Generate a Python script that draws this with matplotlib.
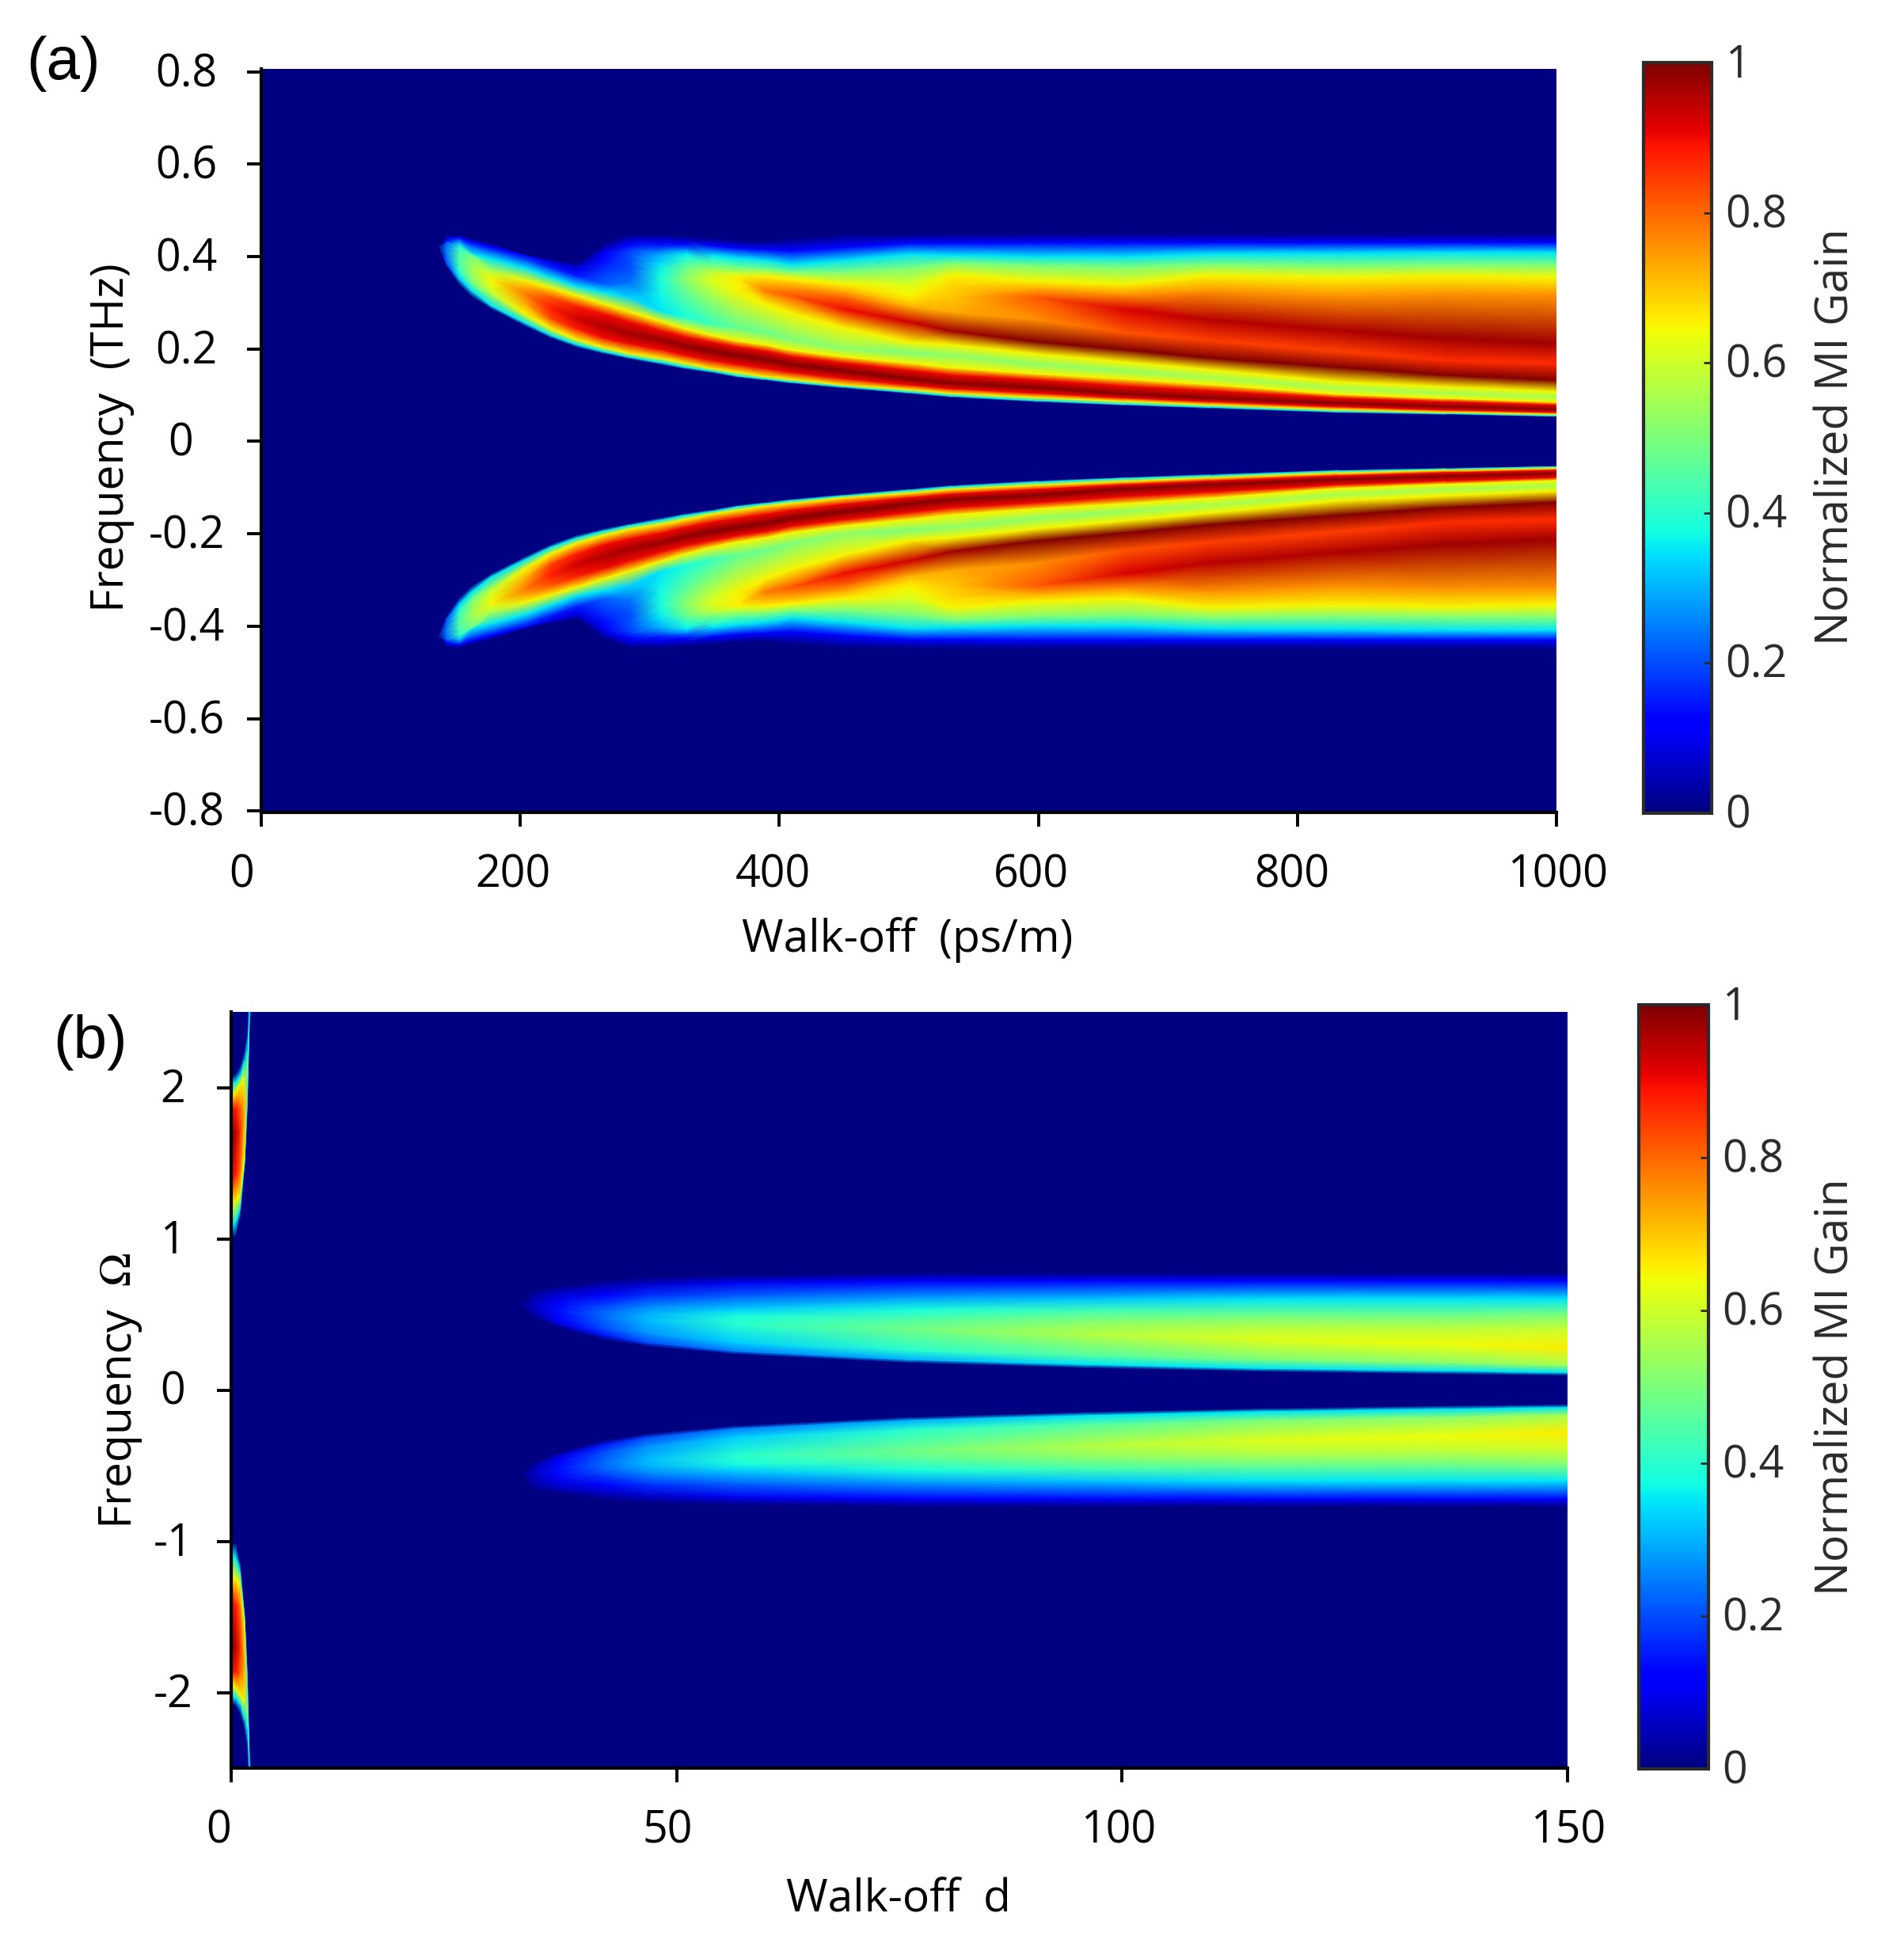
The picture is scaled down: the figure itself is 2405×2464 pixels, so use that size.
import numpy as np
import matplotlib
matplotlib.use("Agg")
import matplotlib.pyplot as plt
from matplotlib.transforms import ScaledTranslation

plt.rcParams['font.family'] = ['Open Sans', 'DejaVu Sans']
plt.rcParams['mathtext.fontset'] = 'stix'

W, H = 2405, 2464

#====== panel (a): curves followed along the upper band, lower band is its mirror ======
walkoff_a = [137, 143, 153, 163, 178, 204, 224, 244, 265, 285, 308, 328, 348, 369,
             389, 410, 450, 501, 534, 600, 667, 733, 832, 915, 1000]
freq_a = [
    [.423, .378, .338, .312, .286, .249, .223, .203, .189, .178, .166, .156, .148, .138, .132, .125, .115, .103, .095, .085, .078, .071, .062, .058, .054],
    [.423, .386, .352, .325, .293, .256, .229, .209, .194, .182, .171, .160, .152, .141, .135, .128, .118, .106, .098, .088, .080, .074, .064, .060, .055],
    [.423, .395, .366, .340, .320, .275, .243, .220, .203, .190, .180, .169, .157, .149, .140, .134, .122, .112, .104, .095, .087, .079, .069, .063, .059],
    [.423, .403, .378, .352, .332, .297, .266, .243, .224, .211, .199, .186, .175, .166, .158, .149, .136, .122, .114, .104, .094, .086, .075, .068, .063],
    [.423, .412, .395, .372, .352, .320, .289, .266, .249, .232, .220, .206, .195, .186, .178, .166, .152, .135, .125, .116, .102, .093, .082, .075, .069],
    [.423, .421, .409, .389, .357, .335, .312, .292, .275, .258, .240, .226, .215, .204, .196, .184, .170, .154, .144, .133, .120, .110, .094, .086, .079],
    [.423, .429, .420, .403, .369, .348, .332, .315, .297, .280, .260, .243, .229, .217, .209, .197, .183, .169, .159, .146, .135, .123, .102, .093, .085],
    [.423, .435, .432, .406, .395, .375, .355, .335, .323, .312, .283, .269, .255, .246, .235, .220, .200, .192, .186, .166, .152, .138, .115, .104, .096],
    [.423, .441, .439, .423, .412, .392, .377, .358, .340, .343, .320, .326, .338, .323, .298, .277, .246, .215, .209, .189, .172, .155, .129, .118, .108],
    [.423, .445, .443, .432, .420, .403, .389, .369, .366, .372, .352, .352, .352, .352, .326, .315, .286, .258, .238, .215, .198, .180, .160, .143, .132],
    [.423, .446, .446, .436, .426, .405, .392, .377, .383, .389, .377, .377, .366, .358, .346, .332, .312, .292, .280, .263, .235, .218, .195, .175, .169],
    [.423, .447, .448, .440, .429, .406, .395, .380, .397, .403, .389, .389, .372, .360, .352, .343, .326, .303, .312, .312, .286, .263, .240, .223, .212],
    [.423, .447, .448, .440, .429, .406, .395, .383, .409, .415, .403, .400, .377, .363, .355, .348, .335, .315, .338, .332, .318, .326, .315, .320, .318],
    [.423, .447, .448, .440, .429, .406, .395, .386, .418, .426, .415, .407, .386, .369, .358, .352, .340, .338, .360, .346, .340, .359, .354, .358, .354],
    [.423, .447, .448, .440, .429, .406, .395, .386, .423, .435, .423, .418, .395, .380, .372, .366, .366, .375, .386, .380, .377, .383, .380, .382, .382],
    [.423, .447, .448, .440, .429, .406, .395, .386, .426, .440, .432, .426, .403, .397, .392, .383, .392, .405, .403, .400, .400, .406, .407, .409, .409],
    [.423, .447, .448, .440, .429, .406, .395, .386, .429, .445, .440, .435, .423, .418, .415, .412, .420, .429, .429, .430, .430, .430, .430, .430, .430],
    [.423, .447, .448, .440, .429, .406, .395, .386, .432, .449, .448, .445, .440, .435, .434, .440, .449, .449, .449, .450, .450, .450, .450, .450, .450],
]
gain_a = [
    [0] * 25,
    [0, .20, .33] + [.35] * 22,
    [0, .22, .40, .48, .58] + [.65] * 20,
    [0, .24, .43, .52, .62, .73, .84, .88] + [.90] * 17,
    [0, .25, .45, .55, .65, .78, .88, .93, .96, .97, .98, .99] + [1] * 13,
    [0, .24, .43, .52, .62, .72, .82, .88] + [.90] * 17,
    [0, .22, .40, .48, .56] + [.65] * 20,
    [0, .12, .28, .35, .35, .35, .35, .35, .35, .33, .35, .38, .42, .47, .48, .50, .52, .50, .52, .52, .53, .55, .55, .55, .55],
    [0, .06, .15, .20, .20, .20, .15, .15, .22, .24, .37, .48, .60] + [.65] * 12,
    [0, .03, .08, .10, .12, .10, .08, .10, .18, .20, .38, .52, .62, .66, .78, .82, .90, .93, .97, 1, 1, 1, 1, 1, 1],
    [0, .01, .03, .05, .05, .03, .04, .08, .15, .20, .36, .48, .58, .65, .70, .75, .80, .72, .73, .76, .82, .84, .84, .86, .86],
    [0, 0, 0, 0, 0, 0, 0, .05, .13, .20, .33, .42, .55, .62, .68, .70, .72, .68, .70, .82, .92, .95, .96, .97, .97],
    [0, 0, 0, 0, 0, 0, 0, .02, .10, .18, .30, .38, .50, .60, .66, .67, .68, .65, .68, .72, .75, .75, .75, .75, .75],
    [0, 0, 0, 0, 0, 0, 0, 0, .06, .12, .22, .35, .45, .55, .65, .65, .65, .62, .65, .65, .65, .65, .65, .65, .65],
    [0, 0, 0, 0, 0, 0, 0, 0, .04, .08, .15, .22, .40, .45, .50, .50, .50, .50, .50, .50, .50, .50, .50, .50, .50],
    [0, 0, 0, 0, 0, 0, 0, 0, .02, .05, .10, .13, .35, .35, .35, .35, .35, .35, .35, .35, .35, .35, .35, .35, .35],
    [0, 0, 0, 0, 0, 0, 0, 0, .01, .02, .05, .06, .13, .13, .13, .13, .13, .13, .13, .13, .13, .13, .13, .13, .13],
    [0] * 25,
]

#====== panel (b): wide lobe ======
walkoff_b = [32.4, 33.9, 36.8, 41.8, 46.8, 56.7, 76.5, 96.4, 116.2, 136, 150]
freq_b = [
    [.559, .559, .559, .559, .559, .559, .559, .559, .559],
    [.480, .498, .524, .559, .585, .611, .637, .655, .660],
    [.410, .437, .471, .524, .559, .594, .637, .672, .690],
    [.332, .367, .410, .480, .524, .567, .628, .690, .730],
    [.288, .314, .375, .463, .506, .559, .628, .700, .750],
    [.236, .257, .314, .436, .489, .541, .620, .710, .760],
    [.178, .201, .262, .402, .463, .532, .611, .720, .775],
    [.145, .169, .227, .367, .445, .524, .602, .720, .775],
    [.122, .143, .201, .332, .419, .506, .602, .720, .775],
    [.105, .128, .183, .306, .402, .498, .602, .720, .775],
    [.096, .117, .166, .279, .393, .498, .602, .720, .775],
]
gain_b = [
    [0, 0, 0, 0, 0, 0, 0, 0, 0],
    [0, .03, .05, .06, .05, .04, .03, .01, 0],
    [0, .08, .12, .14, .13, .10, .07, .03, 0],
    [0, .15, .20, .23, .22, .18, .12, .05, 0],
    [0, .20, .27, .31, .30, .25, .17, .07, 0],
    [0, .25, .33, .40, .38, .32, .22, .10, 0],
    [0, .30, .40, .49, .45, .38, .28, .12, 0],
    [0, .35, .45, .57, .52, .43, .32, .13, 0],
    [0, .35, .50, .62, .57, .47, .35, .13, 0],
    [0, .35, .52, .64, .58, .48, .35, .13, 0],
    [0, .35, .55, .66, .60, .50, .35, .13, 0],
]

#====== panel (b): narrow sliver near zero walk-off ======
walkoff_c = [0, .5, 1, 1.5, 1.8, 2.0, 2.25]
freq_c = [
    [.994, 1.09, 1.24, 1.39, 1.67, 1.84, 1.94, 2.02, 2.08],
    [1.02, 1.11, 1.25, 1.42, 1.70, 1.87, 1.97, 2.04, 2.09],
    [1.14, 1.20, 1.29, 1.45, 1.72, 1.88, 2.02, 2.08, 2.14],
    [1.475, 1.50, 1.53, 1.65, 1.84, 1.96, 2.07, 2.18, 2.24],
    [1.84, 1.87, 1.91, 2.00, 2.10, 2.17, 2.24, 2.33, 2.38],
    [2.30, 2.33, 2.37, 2.42, 2.48, 2.54, 2.58, 2.62, 2.66],
    [2.56, 2.58, 2.60, 2.62, 2.64, 2.66, 2.68, 2.70, 2.72],
]
gain_c = [
    [0, .35, .65, .90, 1, .90, .65, .35, 0],
    [0, .35, .65, .88, .96, .88, .65, .35, 0],
    [0, .35, .65, .80, .87, .80, .65, .35, 0],
    [0, .35, .60, .68, .72, .68, .60, .35, 0],
    [0, .20, .35, .45, .50, .45, .35, .20, 0],
    [0, .15, .30, .38, .42, .38, .30, .15, 0],
    [0, 0, 0, 0, 0, 0, 0, 0, 0],
]

#====== ticks and labels ======
xticks_a = [0, 200, 400, 600, 800, 1000]
xlabels_a = ['0', '200', '400', '600', '800', '1000']
yticks_a = [0.8, 0.6, 0.4, 0.2, 0, -0.2, -0.4, -0.6, -0.8]
ylabels_a = ['0.8', '0.6', '0.4', '0.2', '0', '-0.2', '-0.4', '-0.6', '-0.8']
xticks_b = [0, 50, 100, 150]
xlabels_b = ['0', '50', '100', '150']
yticks_b = [2, 1, 0, -1, -2]
ylabels_b = ['2', '1', '0', '-1', '-2']
cticks = [0, 0.2, 0.4, 0.6, 0.8, 1]
clabels = ['0', '0.2', '0.4', '0.6', '0.8', '1']


def box(left, top, right, bottom):
    return [left / W, 1 - bottom / H, (right - left) / W, (bottom - top) / H]


def fx(x):
    return x / W


def fy(y):
    return 1 - y / H


def shift(lab, dx, dy):
    lab.set_transform(lab.get_transform() + ScaledTranslation(dx / 100, dy / 100, fig.dpi_scale_trans))


def band(ax, d, f, g):
    # rows follow the ridges, so one mesh per band, mirrored for negative frequency
    f = np.array(f)
    g = np.array(g)
    X = np.tile(np.array(d, dtype=float), (f.shape[0], 1))
    mesh = ax.pcolormesh(X, f, g, shading='gouraud', cmap='jet', vmin=0, vmax=1)
    ax.pcolormesh(X, -f, g, shading='gouraud', cmap='jet', vmin=0, vmax=1)
    return mesh


def style(ax, xt, xl, yt, yl, xoff, ypad, xpad):
    ax.set_facecolor('#000080')
    ax.spines['top'].set_visible(False)
    ax.spines['right'].set_visible(False)
    ax.spines['left'].set_linewidth(3)
    ax.spines['bottom'].set_linewidth(3)
    ax.set_xticks(xt)
    ax.set_xticklabels(xl)
    ax.set_yticks(yt)
    ax.set_yticklabels(yl)
    ax.tick_params(axis='both', length=13, width=2.8, labelsize=40, color='black')
    ax.tick_params(axis='y', pad=ypad)
    ax.tick_params(axis='x', pad=xpad)
    for lab in ax.get_yticklabels():
        lab.set_ha('center')
        shift(lab, 0, 3)
    for lab, dx in zip(ax.get_xticklabels(), xoff):
        shift(lab, dx, 0)


def colorbar(mesh, pos, label, lx, ly):
    cax = fig.add_axes(box(*pos))
    cb = fig.colorbar(mesh, cax=cax)
    cb.set_ticks(cticks)
    cb.set_ticklabels(clabels)
    cb.outline.set_edgecolor('#2b2b2b')
    cb.outline.set_linewidth(3)
    cax.tick_params(direction='in', length=7, width=2, color='#2b2b2b', labelsize=40,
                    labelcolor='#2b2b2b', pad=14)
    for lab in cax.get_yticklabels():
        shift(lab, -2, 3)
    cax.set_ylabel(label, fontsize=41, color='#2b2b2b', va='center', ha='center')
    cax.yaxis.set_label_coords(fx(lx), fy(ly), transform=fig.transFigure)


fig = plt.figure(figsize=(W / 100, H / 100), dpi=100)

#========= panel (a) =========
ax1 = fig.add_axes(box(330, 87, 1966, 1026))
mesh1 = band(ax1, walkoff_a, freq_a, gain_a)
ax1.set_xlim(0, 1000)
ax1.set_ylim(-0.803, 0.806)
style(ax1, xticks_a, xlabels_a, yticks_a, ylabels_a, [-25, -9, -8, -9, -7, 2], 55, 24)
shift(ax1.get_yticklabels()[4], -7, 0)
ax1.set_xlabel('Walk-off  (ps/m)', fontsize=41, va='center', ha='center')
ax1.xaxis.set_label_coords(fx(1146), fy(1187), transform=fig.transFigure)
ax1.set_ylabel('Frequency  (THz)', fontsize=41, va='center', ha='center')
ax1.yaxis.set_label_coords(fx(142), fy(553), transform=fig.transFigure)
colorbar(mesh1, (2076, 79, 2162, 1027), 'Normalized MI Gain', 2320, 552)

#========= panel (b) =========
ax2 = fig.add_axes(box(292, 1278, 1980, 2233))
mesh2 = band(ax2, walkoff_b, np.array(freq_b).T, np.array(gain_b).T)
band(ax2, walkoff_c, np.array(freq_c).T, np.array(gain_c).T)
ax2.set_xlim(0, 150)
ax2.set_ylim(-2.5, 2.5)
style(ax2, xticks_b, xlabels_b, yticks_b, ylabels_b, [-16, -11, -5, 1], 40, 24)
ax2.set_xlabel('Walk-off  d', fontsize=41, va='center', ha='center')
ax2.xaxis.set_label_coords(fx(1135), fy(2400), transform=fig.transFigure)
ax2.set_ylabel(r'Frequency  $\Omega$', fontsize=41, va='center', ha='center')
ax2.yaxis.set_label_coords(fx(153), fy(1756), transform=fig.transFigure)
colorbar(mesh2, (2070, 1269, 2158, 2234), 'Normalized MI Gain', 2320, 1752)

fig.text(fx(80), fy(80), '(a)', fontsize=55, family='Liberation Sans', ha='center', va='center')
fig.text(fx(114), fy(1316), '(b)', fontsize=55, family='Liberation Sans', ha='center', va='center')

fig.savefig('out.png', dpi=100)
